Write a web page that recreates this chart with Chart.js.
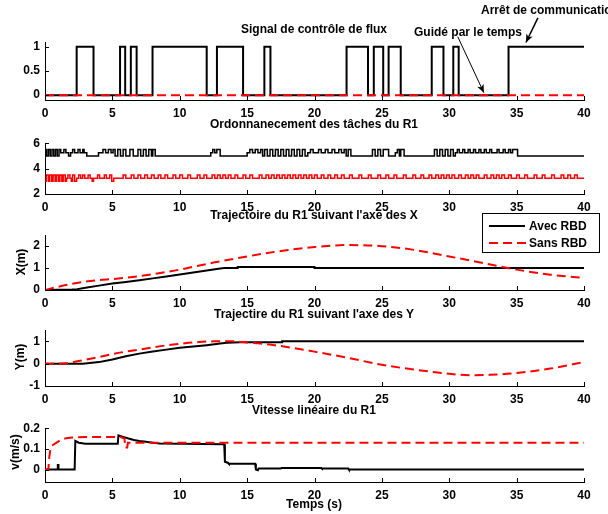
<!DOCTYPE html>
<html>
<head>
<meta charset="utf-8">
<script src="https://cdn.jsdelivr.net/npm/chart.js@4.4.1/dist/chart.umd.min.js"></script>
<style>
    body { margin: 0; width: 608px; height: 514px; overflow: hidden; position: relative; background: #fff;
           font-family: "Liberation Sans", Arial, sans-serif; font-weight: bold; font-size: 12px; color: #000; }
    canvas { position: absolute; left: 0; }
    .lbl { position: absolute; white-space: nowrap; z-index: 2; }
    .ctr { transform: translate(-50%, -50%); }
    .rot { transform: translate(-50%, -50%) rotate(-90deg); }
    #legend { position: absolute; left: 482px; top: 213px; width: 116px; height: 38px; border: 1px solid #000;
              background: #fff; z-index: 3; }
</style>
</head>
<body>
<canvas id="c1" width="608" height="122" style="top:0px"></canvas>
<canvas id="c2" width="608" height="85" style="top:131px"></canvas>
<canvas id="c3" width="608" height="89" style="top:223px"></canvas>
<canvas id="c4" width="608" height="90" style="top:318px"></canvas>
<canvas id="c5" width="608" height="88" style="top:416px"></canvas>

<div class="lbl ctr" style="left:314px;top:29px">Signal de contrôle de flux</div>
<div class="lbl ctr" style="left:314px;top:124px">Ordonnanecement des tâches du R1</div>
<div class="lbl ctr" style="left:314px;top:215px">Trajectoire du R1 suivant l'axe des X</div>
<div class="lbl ctr" style="left:314px;top:314px">Trajectire du R1 suivant l'axe des Y</div>
<div class="lbl ctr" style="left:314px;top:410px">Vitesse linéaire du R1</div>
<div class="lbl ctr" style="left:314px;top:504px">Temps (s)</div>
<div class="lbl ctr" style="left:468px;top:32px">Guidé par le temps</div>
<div class="lbl" style="left:481px;top:3px">Arrêt de communication</div>

<div class="lbl rot" style="left:21px;top:262px">X(m)</div>
<div class="lbl rot" style="left:20px;top:357px">Y(m)</div>
<div class="lbl rot" style="left:15px;top:452px">v(m/s)</div>

<div id="legend">
    <svg width="44" height="38" style="position:absolute;left:4px;top:0">
        <line x1="2" y1="12" x2="38" y2="12" stroke="#000" stroke-width="2"/>
        <line x1="2" y1="29" x2="40" y2="29" stroke="#f00" stroke-width="2" stroke-dasharray="9,5"/>
    </svg>
    <span style="position:absolute;left:46px;top:5px">Avec RBD</span>
    <span style="position:absolute;left:46px;top:22px">Sans RBD</span>
</div>

<script>
const xTicks = [0, 5, 10, 15, 20, 25, 30, 35, 40];

// Signal de contrôle de flux : [temps, valeur] (marches)
const flowAvec = [[0, 0], [2.35, 1], [3.6, 0], [5.57, 1], [5.95, 0], [6.37, 1], [6.8, 0], [7.98, 1], [12.0, 0],
    [12.76, 1], [14.7, 0], [16.28, 1], [16.73, 0], [22.38, 1], [23.97, 0], [24.4, 1], [25.1, 0], [25.5, 1],
    [26.4, 0], [28.7, 1], [29.57, 0], [30.3, 1], [30.7, 0], [34.4, 1], [40, 1]];
const flowSans = [[0, 0], [40, 0]];
const flowTicks = [0, 0.5, 1];

// Ordonnancement des tâches
const schedAvec = [[0, 5.5], [0.13, 5], [0.26, 5.5], [0.39, 5], [0.52, 5.5], [0.65, 5], [0.78, 5.5], [0.91, 5],
    [1.04, 5.5], [1.17, 5.25], [1.4, 5.5], [1.55, 5.25], [1.75, 5], [1.9, 5.25], [2.05, 5.5], [2.2, 5.25],
    [2.45, 5.5], [2.6, 5.25], [2.8, 5.5], [2.9, 5.25], [3.1, 5],
    [3.97, 5.25], [4.3, 5.5], [4.5, 5.25], [4.7, 5.5], [4.9, 5.25], [5.05, 5.5], [5.2, 5], [5.4, 5.5], [5.6, 5],
    [5.8, 5.5], [6.0, 5], [6.3, 5.5], [6.55, 5], [6.9, 5.5], [7.1, 5], [7.3, 5.5], [7.5, 5], [7.7, 5.5], [7.9, 5],
    [8.0, 5.5], [8.18, 5],
    [12.3, 5.25], [12.45, 5.5], [12.6, 5.25], [12.75, 5.5], [13.0, 5],
    [15.0, 5.25], [15.2, 5.5], [15.4, 5.25], [15.6, 5.5], [15.8, 5.25], [16.0, 5.5], [16.15, 5],
    [16.3, 5.5], [16.5, 5], [16.7, 5.5], [16.9, 5], [17.1, 5.5], [17.3, 5], [17.5, 5.5], [17.7, 5], [17.9, 5.5],
    [18.1, 5], [18.3, 5.5], [18.5, 5], [18.7, 5.5], [18.9, 5], [19.1, 5.5], [19.3, 5], [19.5, 5.25],
    [19.7, 5.5], [19.9, 5.25], [20.3, 5.5], [20.5, 5.25], [20.8, 5.5], [21.0, 5.25], [21.3, 5.5], [21.5, 5.25],
    [21.8, 5.5], [22.0, 5.25], [22.2, 5.5], [22.35, 5], [22.5, 5.5], [22.7, 5],
    [24.3, 5.5], [24.5, 5], [24.7, 5.5], [24.9, 5], [25.1, 5.5], [25.5, 5],
    [26.0, 5.25], [26.15, 5.5], [26.3, 5], [26.4, 5.5], [26.65, 5],
    [28.9, 5.5], [29.1, 5], [29.3, 5.5], [29.5, 5], [29.7, 5.5], [29.9, 5], [30.1, 5.5], [30.3, 5],
    [30.45, 5.25], [30.6, 5.5], [30.75, 5.25], [31.0, 5.5], [31.15, 5.25], [31.4, 5.5], [31.55, 5.25],
    [31.8, 5.5], [31.95, 5.25], [32.2, 5.5], [32.35, 5.25], [32.6, 5.5], [32.75, 5.25], [33.0, 5.5],
    [33.15, 5.25], [33.55, 5.5], [33.7, 5.25], [34.0, 5.5], [34.15, 5.25], [34.4, 5.5], [34.55, 5.25],
    [34.7, 5.5], [35.07, 5], [40, 5]];
const schedSansStart = [[0, 3], [0.1, 3.5], [0.25, 3], [0.35, 3.5], [0.5, 3], [0.6, 3.5], [0.75, 3], [0.85, 3.5],
    [1.0, 3], [1.1, 3.5], [1.25, 3], [1.35, 3.5], [1.5, 3], [1.6, 3.25], [1.7, 3.5], [1.85, 3.25], [1.95, 3],
    [2.05, 3.5], [2.2, 3], [2.35, 3.25], [2.5, 3.5], [2.65, 3.25], [2.8, 3.5], [2.95, 3.25], [3.2, 3.5], [3.35, 3.25],
    [3.5, 3], [3.6, 3.25], [3.9, 3.5], [4.05, 3.25], [4.4, 3.5], [4.55, 3.25], [4.8, 3.5], [4.95, 3], [5.1, 3.25]];
const schedSansPulses = [[5.8, 6.0], [6.4, 6.6], [6.9, 7.1], [7.4, 7.6], [7.9, 8.1], [8.4, 8.6], [8.9, 9.1],
    [9.5, 9.7], [10.0, 10.2], [10.6, 10.8], [11.3, 11.5], [11.8, 12.0], [12.4, 12.6], [12.8, 13.0], [13.2, 13.4],
    [13.6, 13.8], [14.1, 14.3], [14.7, 14.9], [15.2, 15.4], [15.9, 16.1], [16.4, 16.6], [16.8, 17.0], [17.2, 17.4],
    [17.6, 17.8], [18.0, 18.2], [18.4, 18.6], [18.8, 19.0], [19.2, 19.4], [19.6, 19.8], [20.0, 20.2], [20.5, 20.7],
    [21.0, 21.2], [21.5, 21.7], [22.0, 22.2], [22.6, 22.8], [23.3, 23.5], [24.0, 24.2], [24.7, 24.9], [25.3, 25.5],
    [25.9, 26.1], [26.6, 26.8], [27.3, 27.5], [27.9, 28.1], [28.5, 28.7], [29.0, 29.2], [29.4, 29.6], [29.8, 30.0],
    [30.2, 30.4], [30.7, 30.9], [31.2, 31.4], [31.6, 31.8], [32.0, 32.2], [32.6, 32.8], [33.1, 33.3], [33.5, 33.7],
    [33.9, 34.1], [34.4, 34.6], [35.0, 35.2], [35.6, 35.8], [36.3, 36.5], [36.9, 37.1], [37.6, 37.8], [38.3, 38.5],
    [38.8, 39.0], [39.3, 39.5]];
const schedTicks = [2, 4, 6];

// Trajectoire X
const xAvec = [[0, 0], [1, 0.01], [2, 0.02], [2.4, 0.04], [3, 0.1], [4, 0.2], [5, 0.3], [6, 0.37], [7, 0.45],
    [8, 0.53], [9, 0.62], [10, 0.71], [11, 0.8], [12, 0.89], [13, 0.98], [13.3, 1.0], [14.3, 1.0], [14.3, 1.05],
    [20, 1.05], [20, 1.0], [40, 1.0]];
const xSans = [[0, 0], [1, 0.15], [2, 0.28], [3, 0.38], [4, 0.45], [5, 0.5], [6, 0.56], [7, 0.63], [8, 0.72],
    [9, 0.82], [10, 0.93], [12.5, 1.25], [15, 1.53], [17.5, 1.78], [20, 1.96], [22.5, 2.05], [25, 2.0],
    [27.5, 1.82], [30, 1.53], [32.5, 1.23], [35, 0.93], [37.5, 0.7], [40, 0.55]];
const xPosTicks = [0, 1, 2];

// Trajectoire Y
const yAvec = [[0, 0], [2.8, 0], [4, 0.07], [5, 0.19], [6, 0.33], [7, 0.45], [8, 0.55], [9, 0.63], [10, 0.71],
    [11, 0.77], [12, 0.83], [13, 0.9], [13.5, 0.94], [14.5, 0.96], [17.6, 0.96], [17.6, 1.0], [40, 1.0]];
const ySans = [[0, 0], [1.5, 0.02], [2.5, 0.12], [4, 0.3], [5, 0.43], [6, 0.54], [7.5, 0.68], [9, 0.82],
    [10, 0.89], [11, 0.95], [12.5, 1.0], [14, 1.0], [15, 0.95], [16, 0.9], [17.5, 0.79], [20, 0.54], [22.5, 0.26],
    [25, -0.05], [27.5, -0.27], [30, -0.45], [31.5, -0.52], [33, -0.5], [35, -0.42], [37.5, -0.22], [40, 0.07]];
const yPosTicks = [-1, 0, 1];

// Vitesse linéaire
const vAvec = [[0, 0], [0.95, 0], [0.95, 0.022], [1.0, 0.022], [1.0, 0], [2.2, 0], [2.25, 0.139], [2.5, 0.13],
    [3.0, 0.125], [5.4, 0.125], [5.45, 0.165], [5.8, 0.158], [6.2, 0.15], [6.6, 0.143], [7.0, 0.138], [7.5, 0.134],
    [8.0, 0.13], [8.5, 0.126], [13.3, 0.123], [13.35, 0.038], [13.6, 0.032], [13.65, 0.028], [15.6, 0.028],
    [15.65, 0], [15.8, -0.003], [15.85, 0.005], [17.5, 0.005], [17.55, 0.008], [20.5, 0.008], [20.55, 0.005],
    [22.5, 0.005], [22.55, 0], [40, 0]];
const vSans = [[0, 0], [0.25, 0], [0.3, 0.05], [0.4, 0.1], [0.5, 0.115], [0.8, 0.128], [1.2, 0.145], [1.6, 0.152],
    [2.0, 0.155], [3.0, 0.158], [5.6, 0.157], [5.9, 0.15], [5.95, 0.107], [6.1, 0.107], [6.15, 0.13], [40, 0.13]];
const vTicks = [0, 0.1, 0.2];

const tickFont = { family: "'Liberation Sans', Arial, sans-serif", size: 12, weight: 'bold' };

function toPoints(pairs) {
    return pairs.map(p => ({ x: p[0], y: p[1] }));
}

function buildSansSchedule() {
    const pts = toPoints(schedSansStart);
    schedSansPulses.forEach(p => {
        pts.push({ x: p[0], y: 3.5 });
        pts.push({ x: p[1], y: 3.25 });
    });
    pts.push({ x: 40, y: 3.25 });
    return pts;
}

// MATLAB style: ticks pointing inside the axes
const insideTicks = {
    id: 'insideTicks',
    afterDraw(chart) {
        const { ctx, chartArea: a, scales: { x, y } } = chart;
        ctx.save();
        ctx.strokeStyle = '#000';
        ctx.lineWidth = 1;
        ctx.beginPath();
        x.ticks.forEach(t => {
            const px = Math.round(x.getPixelForValue(t.value)) + 0.5;
            ctx.moveTo(px, a.bottom);
            ctx.lineTo(px, a.bottom - 4);
        });
        y.ticks.forEach(t => {
            const py = Math.round(y.getPixelForValue(t.value)) + 0.5;
            ctx.moveTo(a.left, py);
            ctx.lineTo(a.left + 4, py);
        });
        ctx.stroke();
        ctx.restore();
    }
};

function drawArrow(ctx, x1, y1, x2, y2, w) {
    const ang = Math.atan2(y2 - y1, x2 - x1);
    ctx.lineWidth = w;
    ctx.beginPath();
    ctx.moveTo(x1, y1);
    ctx.lineTo(x2, y2);
    ctx.stroke();
    ctx.beginPath();
    ctx.moveTo(x2, y2);
    ctx.lineTo(x2 - 9 * Math.cos(ang - 0.4), y2 - 9 * Math.sin(ang - 0.4));
    ctx.lineTo(x2 - 6 * Math.cos(ang), y2 - 6 * Math.sin(ang));
    ctx.lineTo(x2 - 9 * Math.cos(ang + 0.4), y2 - 9 * Math.sin(ang + 0.4));
    ctx.closePath();
    ctx.fill();
}

// annotation arrows, in data units of the first panel
const flowArrows = {
    id: 'flowArrows',
    afterDraw(chart) {
        const { ctx, scales: { x, y } } = chart;
        ctx.save();
        ctx.strokeStyle = '#000';
        ctx.fillStyle = '#000';
        [[30.63, 1.21, 32.57, 0.05, 1], [36.58, 1.6, 35.69, 1.09, 1.5]].forEach(a => {
            drawArrow(ctx, x.getPixelForValue(a[0]), y.getPixelForValue(a[1]),
                x.getPixelForValue(a[2]), y.getPixelForValue(a[3]), a[4]);
        });
        ctx.restore();
    }
};

function lineSet(points, color, dashed, opts) {
    return Object.assign({
        data: points,
        borderColor: color,
        borderWidth: 2,
        borderDash: dashed ? [9, 5] : [],
        pointRadius: 0,
        fill: false,
        tension: 0
    }, opts || {});
}

function makePanel(id, padTop, yMin, yMax, yTicks, datasets, extra) {
    const ctx = document.getElementById(id).getContext('2d');
    return new Chart(ctx, {
        type: 'line',
        data: { datasets: datasets },
        options: {
            responsive: false,
            animation: false,
            events: [],
            layout: { padding: { top: padTop, right: 24, bottom: 0, left: 0 } },
            plugins: { legend: { display: false }, tooltip: { enabled: false } },
            scales: {
                x: {
                    type: 'linear', min: 0, max: 40,
                    afterBuildTicks: s => { s.ticks = xTicks.map(v => ({ value: v })); },
                    afterFit: s => { s.height = 22; },
                    grid: { drawOnChartArea: false, drawTicks: false },
                    border: { color: '#000', width: 1 },
                    ticks: { color: '#000', font: tickFont, padding: 6, maxRotation: 0, autoSkip: false,
                             callback: v => String(v) }
                },
                y: {
                    type: 'linear', min: yMin, max: yMax,
                    afterBuildTicks: s => { s.ticks = yTicks.map(v => ({ value: v })); },
                    afterFit: s => { s.width = 45; },
                    grid: { drawOnChartArea: false, drawTicks: false },
                    border: { color: '#000', width: 1 },
                    ticks: { color: '#000', font: tickFont, padding: 5, autoSkip: false,
                             callback: v => String(v) }
                }
            }
        },
        plugins: [insideTicks].concat(extra || [])
    });
}

window.onload = function () {
    makePanel('c1', 42, -0.1, 1.1, flowTicks, [
        lineSet(toPoints(flowSans), '#f00', true, { order: 0 }),
        lineSet(toPoints(flowAvec), '#000', false, { stepped: true, order: 1 })
    ], [flowArrows]);

    makePanel('c2', 8, 2, 6, schedTicks, [
        lineSet(toPoints(schedAvec), '#000', false, { stepped: true, borderWidth: 1.5 }),
        lineSet(buildSansSchedule(), '#f00', false, { stepped: true, borderWidth: 1.5 })
    ]);

    makePanel('c3', 8, 0, 2.5, xPosTicks, [
        lineSet(toPoints(xSans), '#f00', true, { cubicInterpolationMode: 'monotone', order: 0 }),
        lineSet(toPoints(xAvec), '#000', false, { order: 1 })
    ]);

    makePanel('c4', 8, -1, 1.5, yPosTicks, [
        lineSet(toPoints(ySans), '#f00', true, { cubicInterpolationMode: 'monotone', order: 0 }),
        lineSet(toPoints(yAvec), '#000', false, { order: 1 })
    ]);

    makePanel('c5', 8, -0.06, 0.2, vTicks, [
        lineSet(toPoints(vSans), '#f00', true, { order: 0 }),
        lineSet(toPoints(vAvec), '#000', false, { order: 1 })
    ]);
};
</script>
</body>
</html>
